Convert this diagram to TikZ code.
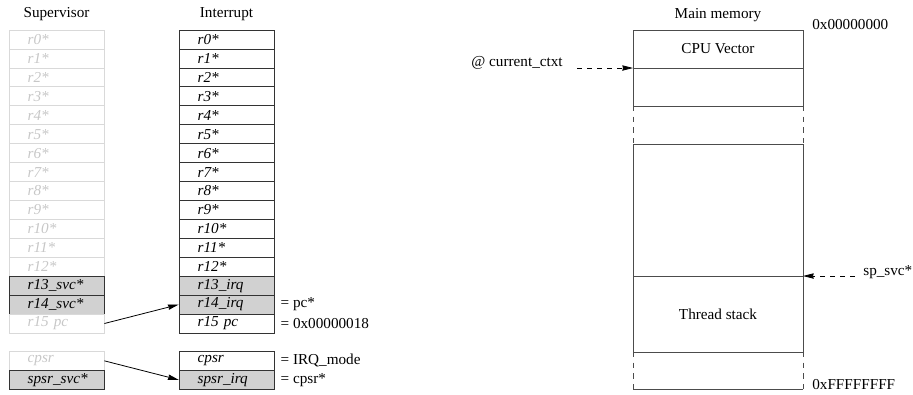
\documentclass[tikz,border=0pt]{standalone}
\usepackage{fontspec}
\setmainfont{Liberation Serif}
\usetikzlibrary{positioning,arrows.meta}

\tikzstyle{reg} = [rectangle, draw=black!80, line width=0.6pt, text width=43.25pt, 
align=left, minimum height=14.2pt, inner xsep=14pt, inner ysep=0pt, font=\itshape]
\tikzstyle{faded} = [reg, draw=black!15, text=black!22]
\tikzstyle{banked} = [reg, fill=black!18]
\tikzstyle{value} = [inner sep=1pt]
\tikzstyle{memcell} = [rectangle, draw=black!70, line width=0.6pt, minimum width=127.5pt, 
inner sep=0pt, outer sep=0pt]
\tikzstyle{arrow} = [line width=0.6pt,->,>={Stealth[length=8pt,width=4pt,inset=0.5pt]},draw]
\tikzstyle{dasharrow} = [line width=0.6pt,->,>={Stealth[length=8pt,width=4pt,inset=0.5pt]},
dash pattern=on 4pt off 3.5pt,draw]
\tikzstyle{gapline} = [draw=black!70, line width=0.6pt, dash pattern=on 4pt off 4pt]

\begin{document}
\begin{tikzpicture}[x=0.75pt, y=0.75pt, node distance=14.2pt]
	\fontsize{11.4}{13}\selectfont
	\useasboundingbox (0,0) rectangle (913,-394);

	%nodes for Supervisor
	\node[faded](s0) at (56.5,-39.5){r0*};
	\node[faded, below of=s0](s1){r1*};
	\node[faded, below of=s1](s2){r2*};
	\node[faded, below of=s2](s3){r3*};
	\node[faded, below of=s3](s4){r4*};
	\node[faded, below of=s4](s5){r5*};
	\node[faded, below of=s5](s6){r6*};
	\node[faded, below of=s6](s7){r7*};
	\node[faded, below of=s7](s8){r8*};
	\node[faded, below of=s8](s9){r9*};
	\node[faded, below of=s9](s10){r10*};
	\node[faded, below of=s10](s11){r11*};
	\node[faded, below of=s11](s12){r12*};
	\node[banked, below of=s12](s13){r13\_svc*};
	\node[banked, below of=s13](s14){r14\_svc*};
	\node[faded, below of=s14](s15){r15 pc};
	\node[faded, node distance=28pt, below of=s15](scpsr){cpsr};
	\node[banked, below of=scpsr](sspsr){spsr\_svc*};
	\node[node distance=18.75pt, above of=s0](suptitle){Supervisor};

	%nodes for Interrupt
	\node[reg, node distance=127.5pt, right of=s0](i0){r0*};
	\node[reg, below of=i0](i1){r1*};
	\node[reg, below of=i1](i2){r2*};
	\node[reg, below of=i2](i3){r3*};
	\node[reg, below of=i3](i4){r4*};
	\node[reg, below of=i4](i5){r5*};
	\node[reg, below of=i5](i6){r6*};
	\node[reg, below of=i6](i7){r7*};
	\node[reg, below of=i7](i8){r8*};
	\node[reg, below of=i8](i9){r9*};
	\node[reg, below of=i9](i10){r10*};
	\node[reg, below of=i10](i11){r11*};
	\node[reg, below of=i11](i12){r12*};
	\node[banked, below of=i12](i13){r13\_irq};
	\node[banked, below of=i13](i14){r14\_irq};
	\node[reg, below of=i14](i15){r15 pc};
	\node[reg, node distance=127.5pt, right of=scpsr](icpsr){cpsr};
	\node[banked, below of=icpsr](ispsr){spsr\_irq};
	\node[node distance=18.75pt, above of=i0](inttitle){Interrupt};

	%values after the switch
	\node[value, right=3.5pt of i14](pcval){= pc*};
	\node[value, right=3.5pt of i15](vecval){= 0x00000018};
	\node[value, right=3.5pt of icpsr](modeval){= IRQ\_mode};
	\node[value, right=3.5pt of ispsr](cpsrval){= cpsr*};

	%nodes for Main memory
	\node[memcell, minimum height=28.5pt](cpuvec) at (718,-49){CPU Vector};
	\node[memcell, minimum height=28.5pt, below=0pt of cpuvec](free){};
	\node[memcell, minimum height=99pt, below=28.5pt of free](heap){};
	\node[memcell, minimum height=57pt, below=0pt of heap](stack){Thread stack};
	\coordinate[below=27.75pt of stack.south west](endl);
	\coordinate[below=27.75pt of stack.south east](endr);
	\node[node distance=25.5pt, above of=cpuvec](memtitle){Main memory};
	\node[anchor=west](addrtop) at (807,-25){0x00000000};
	\node[anchor=west](addrbot) at (807,-385){0xFFFFFFFF};
	\node[anchor=east](ctxt) at (568,-63){@ current\_ctxt};
	\node[anchor=west](spsvc) at (858,-272){sp\_svc*};

	%edges
	\path[arrow] (s15.east) -- (i14.west);
	\path[arrow] (scpsr.east) -- (ispsr.west);
	\path[dasharrow, shorten <=6.75pt] (ctxt.east |- cpuvec.south) -- (cpuvec.south west);
	\path[dasharrow, shorten <=2.25pt] (spsvc.west |- stack.north) -- (stack.north east);
	\draw[gapline] (free.south west) -- (heap.north west);
	\draw[gapline] (free.south east) -- (heap.north east);
	\draw[gapline] (stack.south west) -- (endl);
	\draw[gapline] (stack.south east) -- (endr);
	\draw[draw=black!70, line width=0.6pt] (endl) -- (endr);
\end{tikzpicture}
\end{document}
